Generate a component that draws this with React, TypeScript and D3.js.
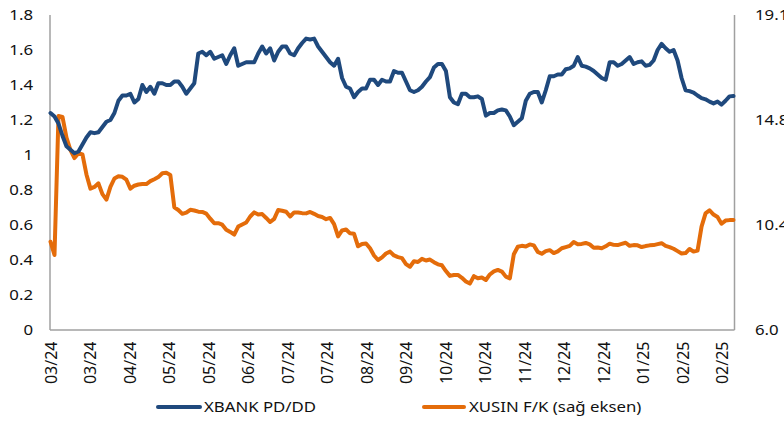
import React from "react";
import * as d3 from "d3";

// XBANK PD/DD (left axis), sampled evenly across the period
const xbank: number[] = [
  1.24,1.22,1.18,1.11,1.05,1.03,1.01,1.02,1.06,1.10,
  1.13,1.125,1.13,1.16,1.19,1.20,1.24,1.31,1.34,1.34,
  1.35,1.30,1.32,1.40,1.36,1.39,1.35,1.41,1.41,1.40,
  1.40,1.42,1.42,1.39,1.35,1.38,1.41,1.58,1.59,1.57,
  1.59,1.55,1.56,1.57,1.52,1.57,1.61,1.51,1.52,1.53,
  1.53,1.53,1.58,1.62,1.58,1.61,1.54,1.59,1.62,1.62,
  1.58,1.57,1.61,1.64,1.665,1.66,1.665,1.62,1.59,1.56,
  1.53,1.51,1.55,1.44,1.39,1.38,1.33,1.36,1.38,1.38,
  1.43,1.43,1.40,1.43,1.42,1.42,1.48,1.47,1.47,1.42,
  1.37,1.36,1.37,1.39,1.42,1.445,1.50,1.52,1.52,1.48,
  1.33,1.30,1.29,1.35,1.35,1.33,1.33,1.335,1.32,1.225,
  1.24,1.24,1.255,1.26,1.255,1.22,1.17,1.19,1.21,1.31,
  1.35,1.36,1.36,1.30,1.37,1.45,1.45,1.46,1.46,1.49,
  1.495,1.51,1.56,1.51,1.505,1.495,1.48,1.46,1.44,1.43,
  1.53,1.53,1.51,1.52,1.54,1.56,1.52,1.53,1.535,1.51,
  1.515,1.54,1.60,1.635,1.61,1.59,1.60,1.54,1.44,1.37,
  1.365,1.357,1.34,1.325,1.318,1.305,1.295,1.305,1.288,1.31,
  1.335,1.337,
];

// XUSIN F/K (right axis)
const xusin: number[] = [
  9.67,9.12,14.90,14.86,14.0,13.48,13.15,13.35,13.30,12.47,
  11.88,11.95,12.10,11.65,11.42,11.95,12.30,12.39,12.37,12.25,
  11.88,12.00,12.05,12.07,12.07,12.19,12.27,12.36,12.52,12.54,
  12.45,11.10,10.99,10.83,10.88,11.00,10.97,10.92,10.91,10.84,
  10.63,10.44,10.44,10.38,10.17,10.08,9.97,10.30,10.39,10.47,
  10.72,10.89,10.80,10.82,10.66,10.49,10.62,10.99,10.96,10.92,
  10.72,10.89,10.89,10.86,10.85,10.91,10.83,10.74,10.70,10.61,
  10.66,10.40,9.89,10.14,10.18,10.02,10.00,9.48,9.58,9.60,
  9.40,9.10,8.91,9.02,9.18,9.26,9.10,9.03,8.99,8.74,
  8.63,8.86,8.83,8.96,8.89,8.93,8.82,8.73,8.69,8.45,
  8.25,8.29,8.29,8.17,8.02,7.93,8.24,8.15,8.18,8.08,
  8.31,8.44,8.50,8.43,8.22,8.15,9.15,9.46,9.50,9.47,
  9.56,9.52,9.25,9.17,9.28,9.32,9.20,9.27,9.40,9.45,
  9.50,9.66,9.57,9.58,9.62,9.56,9.42,9.43,9.40,9.48,
  9.59,9.54,9.53,9.58,9.63,9.50,9.53,9.52,9.45,9.49,
  9.52,9.53,9.57,9.61,9.50,9.45,9.38,9.28,9.18,9.20,
  9.37,9.26,9.30,10.30,10.85,10.98,10.80,10.70,10.42,10.55,
  10.57,10.57,
];

const xLabels: string[] = [
  "03/24","03/24","04/24","05/24","05/24","06/24","07/24","07/24","08/24",
  "09/24","10/24","10/24","11/24","12/24","12/24","01/25","02/25","02/25",
];

const leftTicks: number[] = [0, 0.2, 0.4, 0.6, 0.8, 1, 1.2, 1.4, 1.6, 1.8];
const leftTickLabels: string[] = ["0","0.2","0.4","0.6","0.8","1","1.2","1.4","1.6","1.8"];
const rightDomain: [number, number] = [6.0, 19.1];
const rightTickLabels: string[] = ["6.0", "10.4", "14.8", "19.1"];

const seriesNames: string[] = ["XBANK PD/DD", "XUSIN F/K (sağ eksen)"];
const BLUE = "#1F497D";
const ORANGE = "#E46C0A";
const AXIS = "#A0A0A0";
const FONT = "'Noto Sans', 'Open Sans', sans-serif";

export default function App() {
  const W = 784, H = 425;
  const left = 50, right = 734.5, top = 15, bottom = 330;

  const x = d3.scaleLinear().domain([0, xbank.length - 1]).range([left + 0.5, right - 1]);
  const yL = d3.scaleLinear().domain([0, 1.8]).range([bottom, top]);
  const yR = d3.scaleLinear().domain(rightDomain).range([bottom, top]);
  const xLab = d3.scalePoint<number>().domain(xLabels.map((_, i) => i)).range([51, 722.5]);

  const lineL = d3.line<number>().x((_, i) => x(i)).y((d) => yL(d));
  const lineR = d3.line<number>().x((_, i) => x(i)).y((d) => yR(d));

  const rightTickVals = rightTickLabels.map((_, i) =>
    rightDomain[0] + (i * (rightDomain[1] - rightDomain[0])) / (rightTickLabels.length - 1)
  );

  const sx = 1.12;

  return (
    <svg width={W} height={H} style={{ position: "absolute", left: 0, top: 0, background: "#fff" }}
      fontFamily={FONT}>
      <rect x={0} y={0} width={W} height={H} fill="#fff" />
      {/* axes */}
      <line x1={left} x2={left} y1={top} y2={bottom} stroke={AXIS} strokeWidth={1.5} />
      <line x1={right} x2={right} y1={top} y2={bottom} stroke={AXIS} strokeWidth={1.5} />
      <line x1={left} x2={right} y1={bottom} y2={bottom} stroke={AXIS} strokeWidth={1.5} />

      {/* left tick labels */}
      {leftTicks.map((t, i) => (
        <g key={"l" + i} transform={`translate(33, ${yL(t)}) scale(${sx},1)`}>
          <text textAnchor="end" dy="0.35em" fontSize={15} fill="#111">{leftTickLabels[i]}</text>
        </g>
      ))}
      {/* right tick labels */}
      {rightTickVals.map((t, i) => (
        <g key={"r" + i} transform={`translate(755, ${yR(t)}) scale(${sx},1)`}>
          <text textAnchor="start" dy="0.35em" fontSize={15} fill="#111">{rightTickLabels[i]}</text>
        </g>
      ))}
      {/* x labels */}
      {xLabels.map((lab, i) => (
        <g key={"x" + i} transform={`translate(${xLab(i)}, 341.5) rotate(-90)`}>
          <text textAnchor="end" dy="0.35em" fontSize={16} fill="#111">{lab}</text>
        </g>
      ))}

      {/* series */}
      <path d={lineR(xusin) || ""} fill="none" stroke={ORANGE} strokeWidth={4}
        strokeLinejoin="round" strokeLinecap="round" />
      <path d={lineL(xbank) || ""} fill="none" stroke={BLUE} strokeWidth={4}
        strokeLinejoin="round" strokeLinecap="round" />

      {/* legend */}
      <line x1={158} x2={200} y1={407} y2={407} stroke={BLUE} strokeWidth={4} strokeLinecap="round" />
      <g transform={`translate(204, 407) scale(${sx},1)`}>
        <text dy="0.35em" fontSize={15} fill="#111">{seriesNames[0]}</text>
      </g>
      <line x1={424} x2={464} y1={407} y2={407} stroke={ORANGE} strokeWidth={4} strokeLinecap="round" />
      <g transform={`translate(469, 407) scale(${sx},1)`}>
        <text dy="0.35em" fontSize={15} fill="#111">{seriesNames[1]}</text>
      </g>
    </svg>
  );
}
